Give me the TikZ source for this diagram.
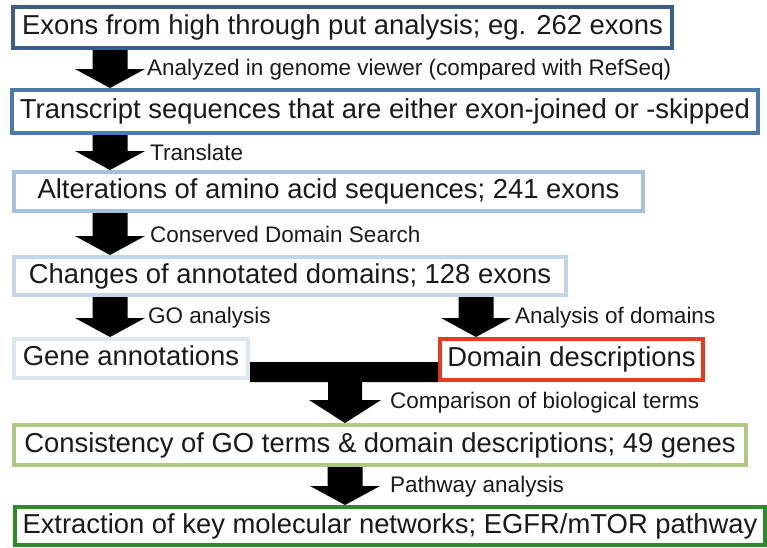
\documentclass[tikz,border=0pt]{standalone}
\usepackage{fontspec}
\setmainfont{Liberation Sans}
\usetikzlibrary{calc}
\definecolor{cb1}{HTML}{3C5E8B}
\definecolor{cb2}{HTML}{4D79AD}
\definecolor{cb3}{HTML}{A7C0DE}
\definecolor{cb4}{HTML}{C5D5E9}
\definecolor{cb5}{HTML}{DCE5F0}
\definecolor{cb6}{HTML}{E63B1E}
\definecolor{cb7}{HTML}{B0C785}
\definecolor{cb8}{HTML}{2B8C2B}
\definecolor{txt}{HTML}{1A1A1A}
\tikzset{
  box/.style={draw, line width=4pt, inner sep=0pt, text=txt,
    text height=20pt, text depth=6pt,
    font=\fontsize{27.4}{30}\selectfont},
  lab/.style={anchor=west, inner sep=0pt, text=txt,
    font=\fontsize{22.5}{26}\selectfont},
}
\newcommand\blockarrow[2]{%
  \fill[black] let \p1=(#1), \p2=(#2) in
    (\x1-17.5pt,\y1) -- (\x1+17.5pt,\y1) -- (\x1+17.5pt,\y2+19pt)
    -- (\x1+35pt,\y2+19pt) -- (\x1,\y2) -- (\x1-35pt,\y2+19pt)
    -- (\x1-17.5pt,\y2+19pt) -- cycle;}
\begin{document}
\begin{tikzpicture}[x=1pt,y=-1pt]
\useasboundingbox[fill=white] (0,0) rectangle (767,547);
\coordinate (c1) at (110,0);
\coordinate (c2) at (476,0);
\coordinate (c3) at (345,0);

\node[box, draw=cb1, minimum width=659pt, minimum height=41pt] (b1) at (342.5,27.5) {Exons from high through put analysis; eg. 262 exons};
\node[box, draw=cb2, minimum width=746pt, minimum height=43pt] (b2) at (385,111.5) {Transcript sequences that are either exon-joined or -skipped};
\node[box, draw=cb3, minimum width=629pt, minimum height=39pt] (b3) at (328.5,191.5) {Alterations of amino acid sequences; 241 exons};
\node[box, draw=cb4, minimum width=552pt, minimum height=38pt] (b4) at (290,276) {Changes of annotated domains; 128 exons};
\node[box, draw=cb5, minimum width=234pt, minimum height=39pt] (b5) at (131,358.5) {Gene annotations};
\node[box, draw=cb6, minimum width=263pt, minimum height=41pt] (b6) at (571.5,359.5) {Domain descriptions};
\node[box, draw=cb7, minimum width=732pt, minimum height=40pt] (b7) at (380,445) {Consistency of GO terms \& domain descriptions; 49 genes};
\node[box, draw=cb8, minimum width=750pt, minimum height=38pt] (b8) at (390,526) {Extraction of key molecular networks; EGFR/mTOR pathway};

\blockarrow{b1.south -| c1}{b2.north -| c1}
\blockarrow{b2.south -| c1}{b3.north -| c1}
\blockarrow{b3.south -| c1}{b4.north -| c1}
\blockarrow{b4.south -| c1}{b5.north -| c1}
\blockarrow{b4.south -| c2}{b6.north -| c2}
\blockarrow{b7.south -| c3}{b8.north -| c3}

% T-shaped merging connector
\fill[black] let \p1=(b5.east), \p2=(b6.west), \p3=(b7.north -| c3) in
  (\x1,-362pt) -- (\x2,-362pt) -- (\x2,-382pt) -- (\x3+17pt,-382pt)
  -- (\x3+17pt,-400pt) -- (\x3+36pt,-400pt) -- (\x3,\y3) -- (\x3-36pt,-400pt)
  -- (\x3-17pt,-400pt) -- (\x3-17pt,-382pt) -- (\x1,-382pt) -- cycle;

\node[lab] (l1) at (147,70) {Analyzed in genome viewer (compared with RefSeq)};
\node[lab] (l2) at (150,152) {Translate};
\node[lab] (l3) at (150,234) {Conserved Domain Search};
\node[lab] (l4) at (148,318) {GO analysis};
\node[lab] (l5) at (515,318) {Analysis of domains};
\node[lab] (l6) at (390,403) {Comparison of biological terms};
\node[lab] (l7) at (390,487) {Pathway analysis};
\end{tikzpicture}
\end{document}
